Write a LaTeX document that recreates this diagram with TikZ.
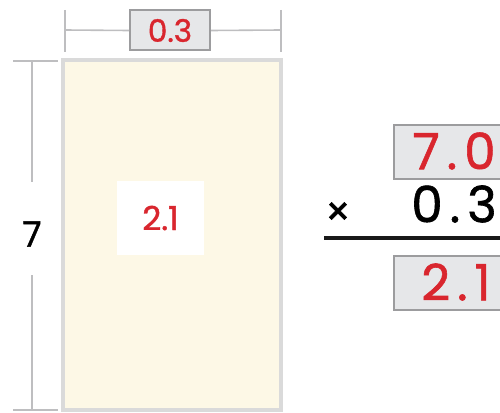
\documentclass[tikz,border=0pt]{standalone}
\usepackage{fontspec}
\setmainfont{Poppins}
\newfontfamily\numfont{Poppins}[FakeBold=1.2]
\usetikzlibrary{positioning}
\definecolor{NumRed}{HTML}{D9262E}
\definecolor{BoxGray}{HTML}{E6E7E9}
\definecolor{BoxEdge}{HTML}{9C9C9E}
\definecolor{AreaFill}{HTML}{FDF8E6}
\definecolor{AreaEdge}{HTML}{DADADA}
\definecolor{DimGray}{HTML}{BEBEC0}

\begin{document}
\begin{tikzpicture}[x=1pt, y=-1pt,
    numbox/.style={draw=BoxEdge, line width=2pt, fill=BoxGray, text=NumRed, inner sep=0pt},
    dimline/.style={DimGray, line width=1.6pt},
    digits/.style={font=\numfont\fontsize{50}{50}\selectfont, inner sep=0pt}
  ]
  \useasboundingbox (0,0) rectangle (500,412);
  \clip (0,0) rectangle (500,412);

  % area rectangle
  \node[draw=AreaEdge, line width=3.5pt, fill=AreaFill, minimum width=218pt, minimum height=350pt, inner sep=0pt] (area) at (172,235) {};
  \node[fill=white, minimum width=87pt, minimum height=74pt, text=NumRed, font=\numfont\fontsize{33}{33}\selectfont] (prod) at (160.5,218) {2.1};

  % top dimension
  \coordinate (tl) at (65,30);
  \coordinate (tr) at (281,30);
  \draw[dimline] (65,10) -- (65,52);
  \draw[dimline] (281,10) -- (281,52);
  \node[numbox, minimum width=80pt, minimum height=40pt, font=\numfont\fontsize{31}{31}\selectfont] (width) at (170,30.5) {0.3};
  \draw[dimline] (tl) -- (width.west);
  \draw[dimline] (width.east) -- (tr);

  % left dimension
  \node[font=\numfont\fontsize{35}{35}\selectfont, inner sep=0pt] (height) at (32,234) {7};
  \coordinate (lt) at (32,61);
  \coordinate (lb) at (32,410);
  \draw[dimline] (13,61) -- (58,61);
  \draw[dimline] (13,410) -- (58,410);
  \draw[dimline] (lt) -- (32,182);
  \draw[dimline] (32,275) -- (lb);

  % vertical multiplication
  \node[numbox, minimum width=140pt, minimum height=54pt, anchor=north west] (topnum) at (393,124) {};
  \node[digits, text=NumRed] (topdig) at (454,151) {7\hspace{7pt}.\hspace{7pt}0};
  \node[digits] (factor) at (454,204) {0\hspace{7pt}.\hspace{7pt}3};
  \node[font=\numfont\fontsize{40}{40}\selectfont, inner sep=0pt] (times) at (338,214) {×};
  \coordinate (rule) at (324,238);
  \draw[line width=4.5pt, black!90] (rule) -- (510,238);
  \node[numbox, minimum width=140pt, minimum height=54pt, anchor=north west] (result) at (393,255) {};
  \node[digits, text=NumRed] (resdig) at (456,282) {2\hspace{7pt}.\hspace{7pt}1};
\end{tikzpicture}
\end{document}
